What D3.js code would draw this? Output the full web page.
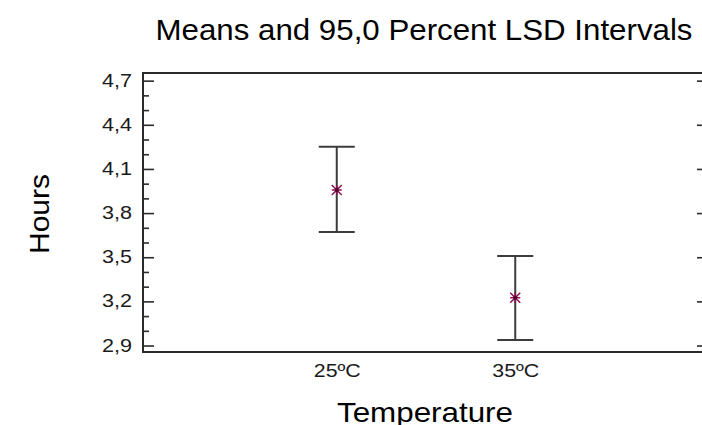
<!DOCTYPE html>
<html>
<head>
<meta charset="utf-8">
<script src="https://cdn.jsdelivr.net/npm/d3@7"></script>
<style>
  html, body { margin: 0; padding: 0; background: #fff; }
  svg { display: block; }
  text { font-family: "Liberation Sans", Arial, sans-serif; }
</style>
</head>
<body>
<svg id="chart" width="702" height="425"></svg>
<script>
const categories = ["25ºC", "35ºC"];
const means = [3.957, 3.225];
const lowerLimits = [3.671, 2.937];
const upperLimits = [4.251, 3.508];
const majorTicks = [2.9, 3.2, 3.5, 3.8, 4.1, 4.4, 4.7];
const minorTicks = [3.0, 3.1, 3.3, 3.4, 3.6, 3.7, 3.9, 4.0, 4.2, 4.3, 4.5, 4.6];
const titleText = "Means and 95,0 Percent LSD Intervals";
const xTitle = "Temperature";
const yTitle = "Hours";

(function () {
const svg = d3.select("#chart");
const pLeft = 143, pRight = 709, pTop = 73, pBottom = 352;

const x = d3.scalePoint().domain(categories).range([pLeft, pRight]).padding(1.0855);
const y = d3.scaleLinear().domain([2.856, 4.752]).range([pBottom, pTop]);
const fmt = v => d3.format(".1f")(v).replace(".", ",");

const axisColor = "#2b2b2b";

// frame
svg.append("rect")
  .attr("x", pLeft).attr("y", pTop)
  .attr("width", pRight - pLeft).attr("height", pBottom - pTop)
  .attr("fill", "none").attr("stroke", axisColor).attr("stroke-width", 2);

// left axis (inward ticks)
const leftMajor = d3.axisRight(y).tickValues(majorTicks).tickSize(11).tickFormat("");
const gL = svg.append("g").attr("transform", `translate(${pLeft},0)`).call(leftMajor);
gL.select(".domain").remove();
gL.selectAll("line").attr("stroke", axisColor).attr("stroke-width", 1.6);

const leftMinor = d3.axisRight(y).tickValues(minorTicks).tickSize(6).tickFormat("");
const gLm = svg.append("g").attr("transform", `translate(${pLeft},0)`).call(leftMinor);
gLm.select(".domain").remove();
gLm.selectAll("line").attr("stroke", axisColor).attr("stroke-width", 1.6);

// tick labels
svg.append("g").selectAll("text").data(majorTicks).join("text")
  .attr("x", 132).attr("y", d => y(d))
  .attr("text-anchor", "end").attr("dominant-baseline", "central")
  .attr("font-size", 18).attr("fill", "#1a1a1a")
  .attr("textLength", 30).attr("lengthAdjust", "spacingAndGlyphs")
  .text(d => fmt(d));

// right axis (inward ticks)
const rightMajor = d3.axisLeft(y).tickValues(majorTicks).tickSize(12).tickFormat("");
const gR = svg.append("g").attr("transform", `translate(${pRight},0)`).call(rightMajor);
gR.select(".domain").remove();
gR.selectAll("line").attr("stroke", axisColor).attr("stroke-width", 1.6);

// x labels
const xAxis = d3.axisBottom(x).tickSize(0).tickPadding(0);
const gX = svg.append("g").attr("transform", `translate(0,${pBottom})`).call(xAxis);
gX.select(".domain").remove();
gX.selectAll("text")
  .attr("y", 0).attr("dy", null)
  .attr("transform", "translate(0,24.5)")
  .attr("font-size", 19).attr("fill", "#1a1a1a")
  .attr("textLength", 47).attr("lengthAdjust", "spacingAndGlyphs")
  .style("font-family", "'Liberation Sans', Arial, sans-serif");

// error bars
const barColor = "#3c3c3c";
const g = svg.append("g");
categories.forEach((c, i) => {
  const cx = x(c);
  g.append("line").attr("x1", cx).attr("x2", cx)
    .attr("y1", y(upperLimits[i])).attr("y2", y(lowerLimits[i]))
    .attr("stroke", barColor).attr("stroke-width", 2);
  [upperLimits[i], lowerLimits[i]].forEach(v => {
    g.append("line").attr("x1", cx - 18).attr("x2", cx + 18)
      .attr("y1", y(v)).attr("y2", y(v))
      .attr("stroke", barColor).attr("stroke-width", 2);
  });
  // asterisk marker
  const cy = y(means[i]);
  const r = 5;
  const arms = [[-r, -r, r, r], [-r, r, r, -r], [-r, 0, r, 0], [0, -r, 0, r]];
  arms.forEach(a => {
    g.append("line")
      .attr("x1", cx + a[0]).attr("y1", cy + a[1])
      .attr("x2", cx + a[2]).attr("y2", cy + a[3])
      .attr("stroke", "#8a1050").attr("stroke-width", 1.5);
  });
  g.append("circle").attr("cx", cx).attr("cy", cy).attr("r", 2).attr("fill", "#5a0030");
});

// title
svg.append("text")
  .attr("x", 424).attr("y", 39.5)
  .attr("text-anchor", "middle").attr("font-size", 29).attr("fill", "#000")
  .attr("textLength", 537).attr("lengthAdjust", "spacingAndGlyphs")
  .text(titleText);

// x title
svg.append("text")
  .attr("x", 425).attr("y", 421.5)
  .attr("text-anchor", "middle").attr("font-size", 28).attr("fill", "#000")
  .attr("textLength", 176).attr("lengthAdjust", "spacingAndGlyphs")
  .text(xTitle);

// y title
svg.append("text")
  .attr("transform", "translate(49,214) rotate(-90)")
  .attr("text-anchor", "middle").attr("font-size", 28).attr("fill", "#000")
  .attr("textLength", 80).attr("lengthAdjust", "spacingAndGlyphs")
  .text(yTitle);
})();
</script>
</body>
</html>
